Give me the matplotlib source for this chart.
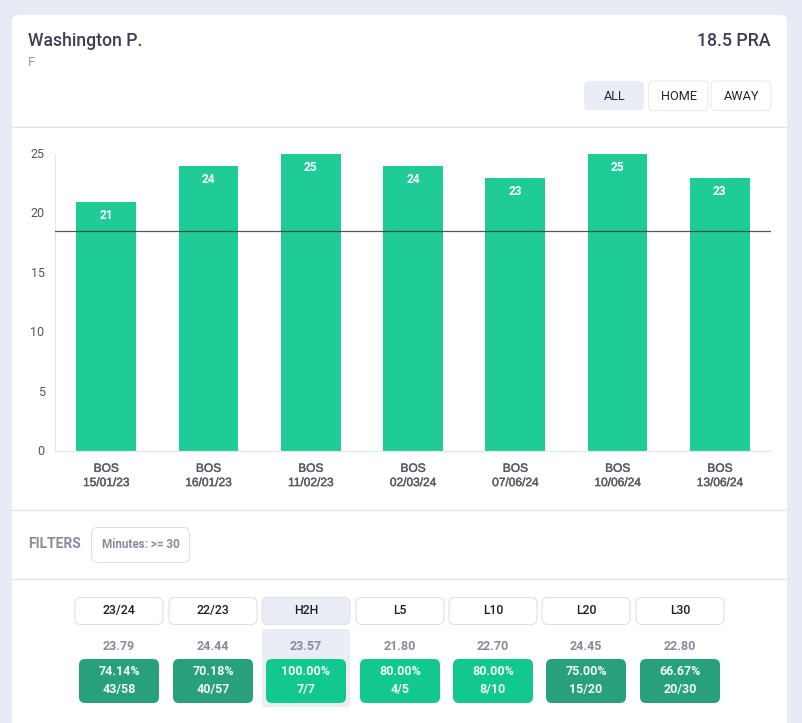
import matplotlib
matplotlib.use("Agg")
import matplotlib.pyplot as plt
import matplotlib.patheffects as pe
from matplotlib.patches import FancyBboxPatch
from matplotlib.transforms import ScaledTranslation

games = ["15/01/23", "16/01/23", "11/02/23", "02/03/24", "07/06/24", "10/06/24", "13/06/24"]
opponents = ["BOS"] * 7
values = [21, 24, 25, 24, 23, 25, 23]
line_value = 18.5
periods = ["23/24", "22/23", "H2H", "L5", "L10", "L20", "L30"]
averages = ["23.79", "24.44", "23.57", "21.80", "22.70", "24.45", "22.80"]
percents = ["74.14%", "70.18%", "100.00%", "80.00%", "80.00%", "75.00%", "66.67%"]
ratios = ["43/58", "40/57", "7/7", "4/5", "8/10", "15/20", "20/30"]
period_x = [119, 213, 306, 400, 493, 586, 680]
high_hit = [False, False, True, True, True, False, False]
side_buttons = ["ALL", "HOME", "AWAY"]
side_x = [(584, 644), (648.5, 708), (711, 771)]

BG = "#E8EBF5"; GREEN = "#1FCC98"; DARK = "#27A07B"; BRIGHT = "#12C88F"
BORDER = "#DFE0E6"; DIV = "#E1E2E7"; MUTED = "#8A8A9E"; HILITE = "#EBEDF6"

W, H = 802, 723
fig = plt.figure(figsize=(W / 100, H / 100), dpi=100, facecolor=BG)
ui = fig.add_axes([0, 0, 1, 1], zorder=0)
ui.set_xlim(0, W); ui.set_ylim(H, 0); ui.axis("off")

def box(x0, y0, x1, y1, fc, ec="none", r=5, lw=0.75, z=1):
    ui.add_patch(FancyBboxPatch((x0 + r, y0 + r), x1 - x0 - 2 * r, y1 - y0 - 2 * r,
                                boxstyle=f"round,pad={r},rounding_size={r}",
                                fc=fc, ec=ec, lw=lw, zorder=z))

def label(x, y, s, size, color, weight="normal", ha="center", family="Roboto", z=5):
    ui.text(x, y, s, fontsize=size, color=color, fontweight=weight, ha=ha, va="center",
            family=family, zorder=z)

# card
box(12, 15, 787, 760, "white", r=6, z=0.5)
for y in (127, 510, 579):
    ui.plot([12, 787], [y, y], color=DIV, lw=0.9, zorder=1)

# header
label(28, 41, "Washington P.", 12.7, "#3D3F55", "medium", "left")
label(28, 62, "F", 9.5, "#9A9AA8", "normal", "left")
label(771, 41, "18.5 PRA", 12.8, "#3D3F55", "medium", "right")
for name, (x0, x1) in zip(side_buttons, side_x):
    active = name == "ALL"
    box(x0, 81, x1, 110.5, HILITE if active else "white", "none" if active else "#E8E9EE")
    label((x0 + x1) / 2 + 0.5, 96, name, 9.2, "#23243A")

# filters
label(28, 544, "FILTERS", 10, MUTED, "bold", "left")
box(91.5, 527.5, 189.5, 562.5, "white", BORDER, r=6)
label(140.5, 544.5, "Minutes: >= 30", 8.4, MUTED, "bold")

# stat columns
for i, p in enumerate(periods):
    cx = period_x[i]
    active = p == "H2H"
    if active:
        box(cx - 44, 629, cx + 44, 707, HILITE, r=4, z=0.8)
    box(cx - 44, 597.5, cx + 44, 624.5, HILITE if active else "white", BORDER, r=6)
    label(cx, 610.5, p, 8.8, "#1C1D2E", "medium")
    label(cx, 646, averages[i], 9, MUTED, "bold")
    box(cx - 40, 659, cx + 40, 703, BRIGHT if high_hit[i] else DARK, r=6)
    label(cx, 671.5, percents[i], 9, "#F0FAF6", "bold")
    label(cx, 690, ratios[i], 9, "#F0FAF6", "bold")

# chart
left, right, top, bottom = 55, 771, 154, 451
ax = fig.add_axes([left / W, 1 - bottom / H, (right - left) / W, (bottom - top) / H],
                  facecolor="none", zorder=2)
xs = range(len(values))
ax.bar(xs, values, width=0.585, color=GREEN, zorder=2)
ax.axhline(line_value, color="#3A3A3A", lw=0.9, alpha=0.85, zorder=3)
for x, v in zip(xs, values):
    ax.annotate(str(v), (x, v), xytext=(0, -10), textcoords="offset points", ha="center",
                va="center", color="white", fontsize=8.6, fontweight="bold",
                family="Roboto", zorder=4)
ax.set_xlim(-0.5, len(values) - 0.5)
ax.set_ylim(0, 25)
ax.set_yticks([0, 5, 10, 15, 20, 25])
ax.set_xticks(list(xs))
ax.set_xticklabels([f"{o}\n{g}" for o, g in zip(opponents, games)], family="Liberation Sans",
                   fontsize=8.6, color="#5A5A65", linespacing=1.25)
ax.tick_params(axis="x", length=0, pad=8.5)
ax.tick_params(axis="y", length=0, pad=7.5, labelsize=9, labelcolor="#55555F")
for t in ax.get_xticklabels():
    t.set_path_effects([pe.withStroke(linewidth=0.3, foreground="#5A5A65")])
shift = ScaledTranslation(0, 1 / 100, fig.dpi_scale_trans)
for t in ax.get_yticklabels():
    t.set_family("Roboto")
    t.set_transform(t.get_transform() + shift)
for s in ("top", "right"):
    ax.spines[s].set_visible(False)
for s in ("left", "bottom"):
    ax.spines[s].set_color("#E5E6EB"); ax.spines[s].set_linewidth(0.9)

fig.savefig("out.png", dpi=100, facecolor=BG)
